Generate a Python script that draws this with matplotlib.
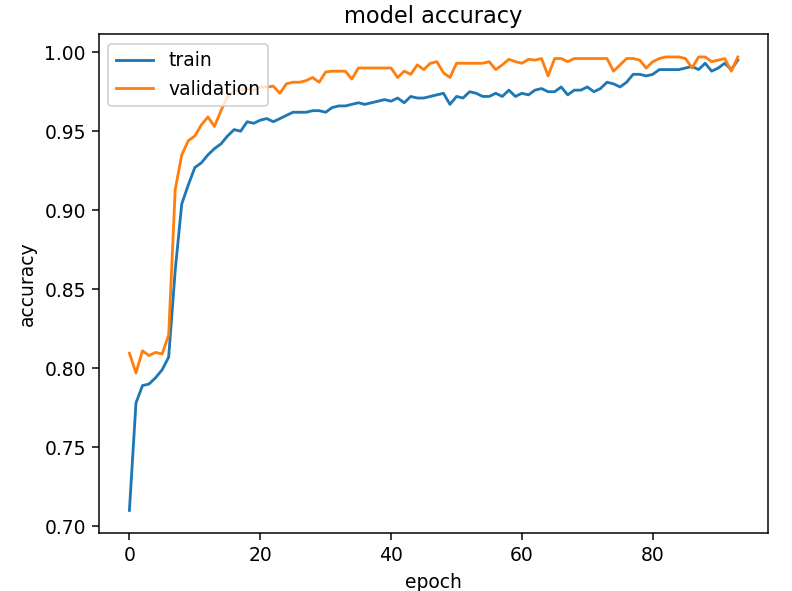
import matplotlib
matplotlib.use("Agg")
import matplotlib.pyplot as plt

# training history (epochs 0..93)
train_acc = [
    0.710, 0.778, 0.789, 0.790, 0.794, 0.799, 0.807, 0.862, 0.904, 0.916,
    0.927, 0.930, 0.935, 0.939, 0.942, 0.947, 0.951, 0.950, 0.956, 0.955,
    0.957, 0.958, 0.956, 0.958, 0.960, 0.962, 0.962, 0.962, 0.963, 0.963,
    0.962, 0.965, 0.966, 0.966, 0.967, 0.968, 0.967, 0.968, 0.969, 0.970,
    0.969, 0.971, 0.968, 0.972, 0.971, 0.971, 0.972, 0.973, 0.974, 0.967,
    0.972, 0.971, 0.975, 0.974, 0.972, 0.972, 0.974, 0.972, 0.976, 0.972,
    0.974, 0.973, 0.976, 0.977, 0.975, 0.975, 0.978, 0.973, 0.976, 0.976,
    0.978, 0.975, 0.977, 0.981, 0.980, 0.978, 0.981, 0.986, 0.986, 0.985,
    0.986, 0.989, 0.989, 0.989, 0.989, 0.990, 0.991, 0.989, 0.993, 0.988,
    0.990, 0.993, 0.989, 0.995,
]
val_acc = [
    0.8095, 0.797, 0.811, 0.808, 0.810, 0.809, 0.821, 0.913, 0.935, 0.944,
    0.947, 0.954, 0.959, 0.953, 0.963, 0.972, 0.975, 0.976, 0.977, 0.976,
    0.978, 0.978, 0.9785, 0.974, 0.980, 0.981, 0.981, 0.982, 0.984, 0.981,
    0.9875, 0.988, 0.988, 0.988, 0.983, 0.990, 0.990, 0.990, 0.990, 0.990,
    0.990, 0.984, 0.988, 0.986, 0.992, 0.989, 0.993, 0.994, 0.987, 0.984,
    0.993, 0.993, 0.993, 0.993, 0.993, 0.994, 0.989, 0.992, 0.9955, 0.994,
    0.993, 0.9955, 0.995, 0.996, 0.985, 0.996, 0.996, 0.994, 0.996, 0.996,
    0.996, 0.996, 0.996, 0.996, 0.988, 0.992, 0.996, 0.996, 0.995, 0.990,
    0.994, 0.996, 0.997, 0.997, 0.997, 0.996, 0.990, 0.997, 0.997, 0.994,
    0.995, 0.996, 0.988, 0.997,
]

fig = plt.figure(figsize=(792 / 135, 591 / 135), dpi=135)
ax = fig.add_axes([0.125, 0.098, 0.845, 0.844])

ax.plot(train_acc)
ax.plot(val_acc)
ax.set_title("model accuracy")
ax.set_ylabel("accuracy")
ax.set_xlabel("epoch")
ax.legend(["train", "validation"], loc="upper left")

fig.savefig("out.png", dpi=135)
